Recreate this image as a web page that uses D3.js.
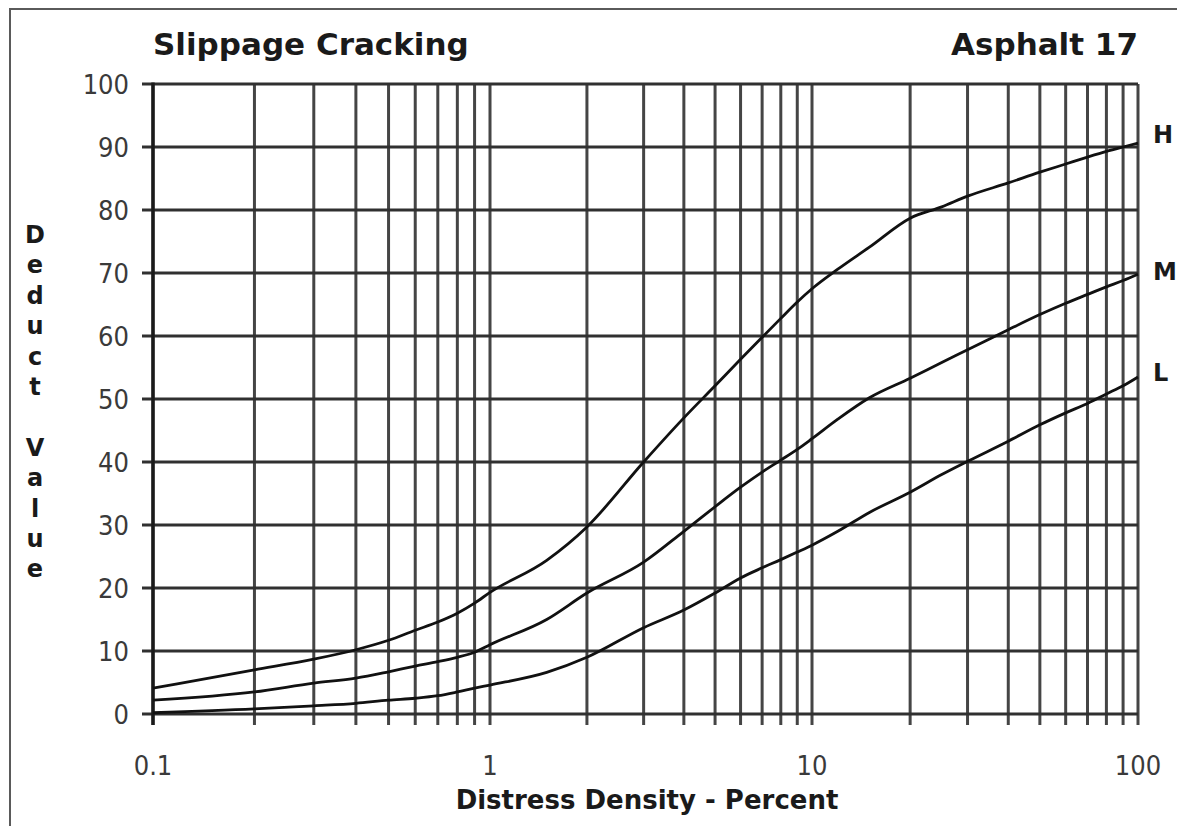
<!DOCTYPE html>
<html>
<head>
<meta charset="utf-8">
<script src="https://cdn.jsdelivr.net/npm/d3@7"></script>
<style>
  html, body { margin: 0; padding: 0; background: #fff; }
  svg { display: block; }
  .tick-label { font-family: "DejaVu Sans Condensed", "DejaVu Sans", sans-serif; font-size: 27px; fill: #3a3a3a; }
  .bold { font-family: "DejaVu Sans", Verdana, sans-serif; font-weight: bold; fill: #1a1a1a; }
</style>
</head>
<body>
<svg id="chart" width="1177" height="826"></svg>
<script>
// Distress density (%) at which each deduct curve was read
const densities = [0.1, 0.2, 0.3, 0.4, 0.5, 0.6, 0.7, 0.8, 0.9, 1, 1.5, 2, 3, 4, 5, 6, 7, 8, 9, 10,
                   12, 15, 20, 25, 30, 40, 50, 60, 70, 80, 90, 100];

// Deduct values per severity level
const highDeduct   = [4.1, 7.0, 8.7, 10.2, 11.7, 13.3, 14.6, 16.0, 17.6, 19.3, 24.4, 29.7, 40.0, 47.0, 52.1,
                      56.3, 59.8, 62.8, 65.4, 67.5, 70.6, 74.1, 78.7, 80.5, 82.2, 84.3, 86.0, 87.3, 88.4, 89.3, 90.0, 90.6];
const mediumDeduct = [2.2, 3.5, 4.9, 5.7, 6.7, 7.6, 8.3, 9.0, 9.8, 11.0, 15.0, 19.2, 24.1, 29.0, 32.9,
                      36.0, 38.4, 40.3, 42.0, 43.7, 46.8, 50.2, 53.3, 55.8, 57.8, 61.0, 63.4, 65.2, 66.6, 67.8, 68.8, 69.8];
const lowDeduct    = [0.2, 0.8, 1.3, 1.7, 2.2, 2.5, 2.9, 3.5, 4.1, 4.6, 6.6, 9.0, 13.7, 16.5, 19.2,
                      21.6, 23.2, 24.5, 25.7, 26.8, 29.0, 32.0, 35.2, 38.0, 40.1, 43.3, 45.9, 47.8, 49.3, 50.8, 52.1, 53.5];

const severityLabels = ["H", "M", "L"];
const yTickValues = [0, 10, 20, 30, 40, 50, 60, 70, 80, 90, 100];
const xTickLabels = [0.1, 1, 10, 100];

const chartTitle = "Slippage Cracking";
const chartSubtitle = "Asphalt 17";
const xAxisTitle = "Distress Density - Percent";
const yAxisTitle = "Deduct Value";

const svg = d3.select("#chart");
const W = 1177, H = 826;

svg.append("rect").attr("width", W).attr("height", H).attr("fill", "#fff");

// outer frame (runs off the right and bottom edges)
svg.append("rect")
  .attr("x", 10).attr("y", 9)
  .attr("width", 1240).attr("height", 900)
  .attr("fill", "none").attr("stroke", "#5a5a5a").attr("stroke-width", 2);

// log x scale, one segment per decade
const x = d3.scaleLog()
  .domain([0.1, 1, 10, 100])
  .range([153, 490, 812, 1138]);

const y = d3.scaleLinear()
  .domain([0, 100])
  .range([714, 84]);

const plotLeft = x(0.1), plotRight = x(100), plotTop = y(100), plotBottom = y(0);
const tickLen = 11;

// vertical grid at every log tick
const grid = svg.append("g");
grid.selectAll("line.v")
  .data(x.ticks())
  .join("line")
  .attr("class", "v")
  .attr("x1", d => x(d)).attr("x2", d => x(d))
  .attr("y1", plotTop).attr("y2", plotBottom + tickLen)
  .attr("stroke", "#454545").attr("stroke-width", 3);

// horizontal grid every 10
grid.selectAll("line.h")
  .data(yTickValues)
  .join("line")
  .attr("class", "h")
  .attr("x1", plotLeft - tickLen).attr("x2", plotRight)
  .attr("y1", d => y(d)).attr("y2", d => y(d))
  .attr("stroke", "#303030").attr("stroke-width", 3);

// left axis line
svg.append("line")
  .attr("x1", plotLeft).attr("x2", plotLeft)
  .attr("y1", plotTop - 1.5).attr("y2", plotBottom + tickLen)
  .attr("stroke", "#1a1a1a").attr("stroke-width", 3.4);

// y tick labels
svg.append("g").selectAll("text")
  .data(yTickValues)
  .join("text")
  .attr("class", "tick-label")
  .attr("x", 129)
  .attr("y", d => y(d) + 10)
  .attr("text-anchor", "end")
  .text(d => d);

// x tick labels
svg.append("g").selectAll("text")
  .data(xTickLabels)
  .join("text")
  .attr("class", "tick-label")
  .attr("x", d => x(d))
  .attr("y", 775)
  .attr("text-anchor", "middle")
  .text(d => d);

// curves
const series = [highDeduct, mediumDeduct, lowDeduct];
const line = d3.line()
  .x((d, i) => x(densities[i]))
  .y(d => y(d))
  .curve(d3.curveMonotoneX);

svg.append("g").selectAll("path")
  .data(series)
  .join("path")
  .attr("d", d => line(d))
  .attr("fill", "none")
  .attr("stroke", "#111")
  .attr("stroke-width", 2.8)
  .attr("stroke-linejoin", "round");

// severity labels at the right end of each curve
svg.append("g").selectAll("text")
  .data(series)
  .join("text")
  .attr("class", "bold")
  .attr("x", 1153)
  .attr("y", (d, i) => y(d[d.length - 1]) + [0, 6, 4][i])
  .attr("font-size", 24)
  .text((d, i) => severityLabels[i]);

// titles
svg.append("text")
  .attr("class", "bold")
  .attr("x", 153).attr("y", 55)
  .attr("font-size", 31)
  .text(chartTitle);

svg.append("text")
  .attr("class", "bold")
  .attr("x", 1138).attr("y", 55)
  .attr("text-anchor", "end")
  .attr("font-size", 31)
  .text(chartSubtitle);

svg.append("text")
  .attr("class", "bold")
  .attr("x", 647).attr("y", 809)
  .attr("text-anchor", "middle")
  .attr("font-size", 26)
  .text(xAxisTitle);

// y-axis title: letters stacked one per line
svg.append("g").selectAll("text")
  .data(yAxisTitle.split(""))
  .join("text")
  .attr("class", "bold")
  .attr("x", 35)
  .attr("y", (d, i) => 243 + i * 30.4)
  .attr("text-anchor", "middle")
  .attr("font-size", 24)
  .text(d => d);
</script>
</body>
</html>
